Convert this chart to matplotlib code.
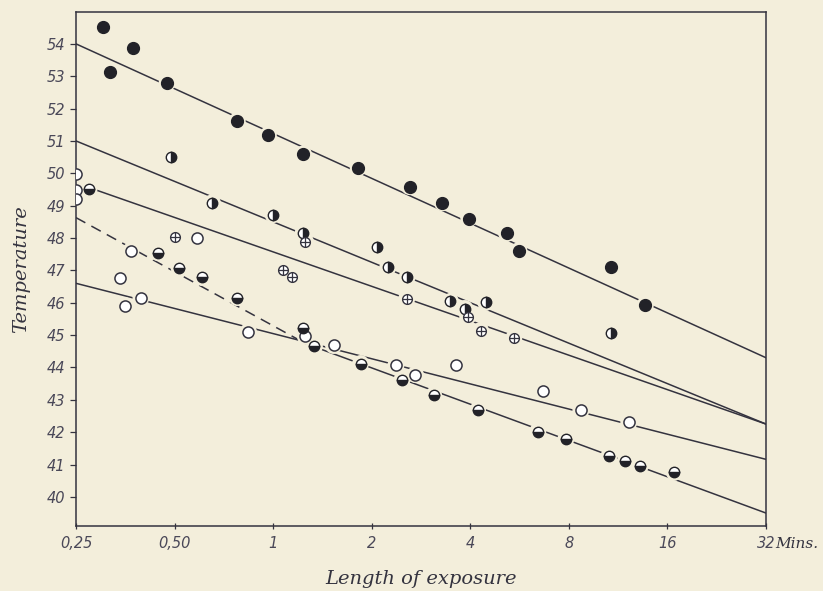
import matplotlib
matplotlib.use("Agg")
import matplotlib.pyplot as plt

# exposure in minutes, temperature in degrees
full_x = [0.302, 0.318, 0.373, 0.475, 0.777, 0.967, 1.237, 1.82, 2.61, 3.29, 3.96, 5.17, 5.63, 10.8, 13.7]
full_y = [54.52, 53.14, 53.88, 52.80, 51.62, 51.19, 50.60, 50.17, 49.59, 49.09, 48.60, 48.14, 47.61, 47.09, 45.94]

right_x = [0.488, 0.652, 1.0, 1.237, 2.08, 2.24, 2.57, 3.48, 3.85, 4.46, 10.76]
right_y = [50.51, 49.09, 48.72, 48.17, 47.73, 47.09, 46.81, 46.04, 45.82, 46.01, 45.05]

cross_x = [0.502, 1.075, 1.145, 1.255, 2.56, 3.93, 4.30, 5.43]
cross_y = [48.04, 47.02, 46.81, 47.89, 46.13, 45.57, 45.14, 44.90]

open_x = [0.25, 0.25, 0.25, 0.586, 0.368, 0.341, 0.395, 0.353, 0.84, 1.255, 1.53, 2.37, 2.72, 3.61, 6.66, 8.71, 12.2]
open_y = [49.99, 49.49, 49.22, 48.01, 47.61, 46.75, 46.16, 45.91, 45.11, 44.96, 44.68, 44.06, 43.78, 44.09, 43.26, 42.67, 42.30]

low_x = [0.274, 0.445, 0.517, 0.607, 0.777, 1.237, 1.337, 1.85, 2.47, 3.09, 4.21, 6.43, 7.83, 10.6, 11.9, 13.2, 16.8]
low_y = [49.52, 47.55, 47.06, 46.78, 46.16, 45.23, 44.65, 44.12, 43.60, 43.14, 42.67, 42.02, 41.78, 41.25, 41.10, 40.94, 40.76]

# drawn lines (ends)
line1_x, line1_y = [0.25, 32], [54.0, 44.3]
line2_x, line2_y = [0.25, 32], [51.0, 42.25]
line3_x, line3_y = [0.25, 32], [49.7, 42.25]
line4_x, line4_y = [0.25, 32], [46.6, 41.16]
dash_x, dash_y = [0.25, 1.255], [48.63, 44.74]
line5_x, line5_y = [1.255, 32], [44.74, 39.5]

xticks = [0.25, 0.5, 1, 2, 4, 8, 16, 32]
xlabels = ["0,25", "0,50", "1", "2", "4", "8", "16", "32"]
yticks = list(range(40, 55))

bg = "#f3eedb"
ink = "#34333f"

fig = plt.figure(figsize=(8.23, 5.91), dpi=100, facecolor=bg)
ax = fig.add_axes([0.0923, 0.110, 0.8384, 0.870], facecolor=bg)

for lx, ly, ls in [(line1_x, line1_y, "-"), (line2_x, line2_y, "-"), (line3_x, line3_y, "-"),
                   (line4_x, line4_y, "-"), (dash_x, dash_y, (0, (7, 4.5))), (line5_x, line5_y, "-")]:
    ax.plot(lx, ly, color=ink, lw=1.1, ls=ls, zorder=2)

# background halo so lines break around the points
all_x = full_x + right_x + cross_x + open_x + low_x
all_y = full_y + right_y + cross_y + open_y + low_y
ax.scatter(all_x, all_y, s=150, color=bg, edgecolors="none", zorder=2.5)

ax.plot(full_x, full_y, "o", ms=8.5, color="#222228", zorder=3)
ax.plot(right_x, right_y, "o", ms=7.5, fillstyle="right", markerfacecolor="#222228",
        markerfacecoloralt="white", markeredgecolor="#222228", mew=1.0, zorder=3)
ax.plot(cross_x, cross_y, "o", ms=7, markerfacecolor="white", markeredgecolor=ink, mew=1.0, zorder=3)
ax.plot(cross_x, cross_y, "+", ms=7, color=ink, mew=0.9, zorder=3.5)
ax.plot(open_x, open_y, "o", ms=8, markerfacecolor="white", markeredgecolor=ink, mew=1.1, zorder=3)
ax.plot(low_x, low_y, "o", ms=7.5, fillstyle="bottom", markerfacecolor="#222228",
        markerfacecoloralt="white", markeredgecolor="#222228", mew=1.0, zorder=3)

ax.set_xscale("log", base=2)
ax.set_xlim(0.25, 32)
ax.set_ylim(39.1, 54.99)
ax.set_xticks(xticks)
ax.set_xticklabels(xlabels)
ax.minorticks_off()
ax.set_yticks(yticks)
ax.tick_params(axis="both", colors=ink, labelsize=10.5, width=0.9, length=4)
ax.tick_params(axis="x", direction="inout", pad=5)
for lab in ax.get_xticklabels() + ax.get_yticklabels():
    lab.set_fontstyle("italic")
    lab.set_color("#4a4858")

for s in ax.spines.values():
    s.set_color(ink)
    s.set_linewidth(1.1)

ax.annotate("Mins.", xy=(32, 0), xycoords=("data", "axes fraction"), xytext=(7, -8),
            textcoords="offset points", ha="left", va="top", fontsize=11,
            family="DejaVu Serif", style="italic", color=ink, annotation_clip=False)

ax.set_ylabel("Temperature", family="DejaVu Serif", style="italic", fontsize=14, color=ink, labelpad=12)
ax.set_xlabel("Length of exposure", family="DejaVu Serif", style="italic", fontsize=14, color=ink, labelpad=14)

fig.savefig("out.png", dpi=100, facecolor=bg)
